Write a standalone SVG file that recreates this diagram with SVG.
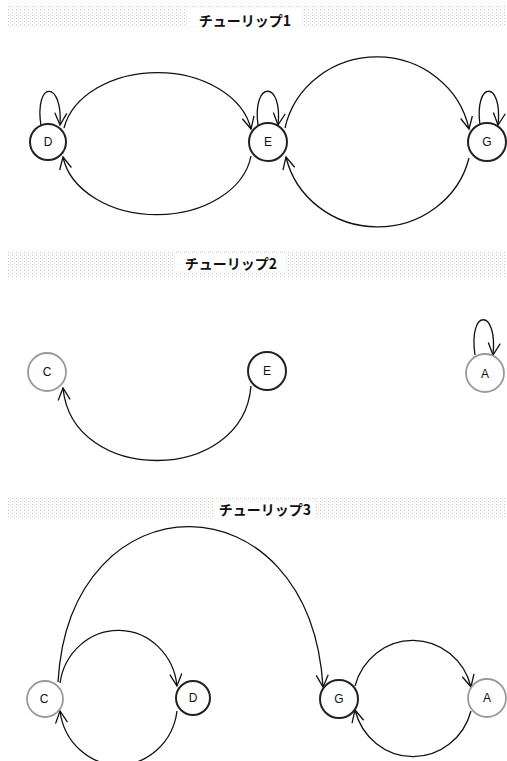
<svg xmlns="http://www.w3.org/2000/svg" width="507" height="761" viewBox="0 0 507 761">
<style>
.title{font-family:"Noto Sans CJK JP","Liberation Sans",sans-serif;font-weight:bold;font-size:14px;fill:#111;text-anchor:middle}
.lbl{font-family:"Liberation Sans",Arial,sans-serif;font-size:12px;fill:#111;text-anchor:middle;dominant-baseline:central}
.dark{fill:#fff;stroke:#222;stroke-width:2}
.gray{fill:#fff;stroke:#9a9a9a;stroke-width:1.8}
.edge{fill:none;stroke:#111;stroke-width:1.3;marker-end:url(#ah)}
.band{fill:url(#dots)}
</style>
<defs>
<pattern id="dots" width="4" height="3" patternUnits="userSpaceOnUse">
<rect x="0" y="0" width="1" height="1" fill="#c8c8c8"/>
<rect x="2" y="1.5" width="1" height="1" fill="#dcdcdc"/>
</pattern>
<marker id="ah" viewBox="-13 -7 15 14" refX="0" refY="0" markerWidth="15" markerHeight="14" markerUnits="userSpaceOnUse" orient="auto">
<path d="M-12,-6 L0,0 L-12,6" fill="none" stroke="#111" stroke-width="1.3"/>
</marker>
</defs>
<rect width="507" height="761" fill="#fff"/>

<g id="titles">
<rect class="band" x="8" y="5" width="497" height="22"/>
<rect x="188" y="8" width="114" height="18" fill="#fff"/>
<text class="title" x="245" y="26" font-size="15">チューリップ1</text>
<rect class="band" x="8" y="251" width="497" height="26"/>
<rect x="176" y="253" width="110" height="18" fill="#fff"/>
<text class="title" x="231" y="269" font-size="15">チューリップ2</text>
<rect class="band" x="8" y="497" width="497" height="22"/>
<rect x="214" y="501" width="102" height="17" fill="#fff"/>
<text class="title" x="265" y="515">チューリップ3</text>
</g>

<g id="connectors">
<!-- tulip 1 -->
<path class="edge" d="M41,126 C34,80 63,80 60,125"/>
<path class="edge" d="M258,125 C252,80 283,80 278,125"/>
<path class="edge" d="M480,125 C474,80 503,80 498,125"/>
<path class="edge" d="M64,128 A95,68 0 0 1 251,129"/>
<path class="edge" d="M251,156 A95,68 0 0 1 63,157"/>
<path class="edge" d="M285,128 A94,90 0 0 1 469,129"/>
<path class="edge" d="M469,158 A94,90 0 0 1 286,157"/>
<!-- tulip 2 -->
<path class="edge" d="M251,386 C243,485 72,485 63,388"/>
<path class="edge" d="M475,355 C468,308 498,308 493,355"/>
<!-- tulip 3 -->
<path class="edge" d="M58,682 C70,474 310,474 323,687"/>
<path class="edge" d="M60,683 A59,62 0 0 1 177,686"/>
<path class="edge" d="M177,711 A59,62 0 0 1 60,711"/>
<path class="edge" d="M355,686 A60,62 0 0 1 471,687"/>
<path class="edge" d="M471,711 A60,62 0 0 1 355,710"/>
</g>

<g id="t1-D"><circle class="dark" cx="48" cy="142" r="18"/><text class="lbl" x="48" y="142">D</text></g>
<g id="t1-E"><circle class="dark" cx="268" cy="142" r="19"/><text class="lbl" x="268" y="142">E</text></g>
<g id="t1-G"><circle class="dark" cx="487" cy="142" r="19"/><text class="lbl" x="487" y="142">G</text></g>

<g id="t2-C"><circle class="gray" cx="47" cy="372" r="19"/><text class="lbl" x="47" y="372">C</text></g>
<g id="t2-E"><circle class="dark" cx="267" cy="371" r="19"/><text class="lbl" x="267" y="371">E</text></g>
<g id="t2-A"><circle class="gray" cx="485" cy="373" r="19"/><text class="lbl" x="485" y="374">A</text></g>

<g id="t3-C"><circle class="gray" cx="45" cy="699" r="18"/><text class="lbl" x="44" y="699">C</text></g>
<g id="t3-D"><circle class="dark" cx="193" cy="698" r="17"/><text class="lbl" x="193" y="698">D</text></g>
<g id="t3-G"><circle class="dark" cx="339" cy="699" r="19"/><text class="lbl" x="339" y="699">G</text></g>
<g id="t3-A"><circle class="gray" cx="487" cy="698" r="19"/><text class="lbl" x="487" y="698">A</text></g>
</svg>
